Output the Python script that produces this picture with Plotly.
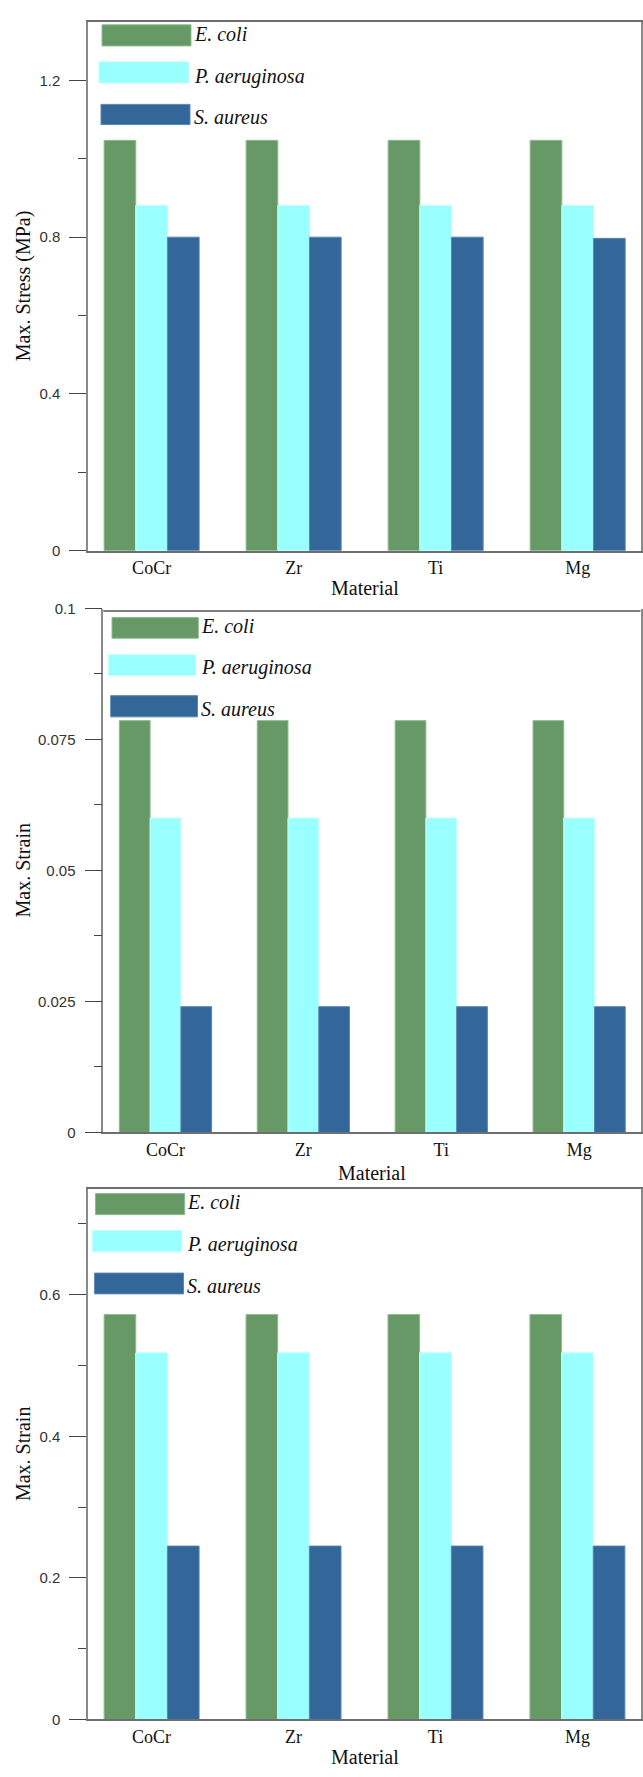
import plotly.graph_objects as go

# ---- data -------------------------------------------------------------
materials = ["CoCr", "Zr", "Ti", "Mg"]
species = ["E. coli", "P. aeruginosa", "S. aureus"]

stress_ecoli = [1.047, 1.047, 1.047, 1.047]
stress_paer = [0.881, 0.881, 0.881, 0.881]
stress_saur = [0.800, 0.800, 0.800, 0.797]

strain_a_ecoli = [0.0786, 0.0786, 0.0786, 0.0786]
strain_a_paer = [0.0600, 0.0600, 0.0600, 0.0600]
strain_a_saur = [0.0240, 0.0240, 0.0240, 0.0240]

strain_b_ecoli = [0.572, 0.572, 0.572, 0.572]
strain_b_paer = [0.518, 0.518, 0.518, 0.518]
strain_b_saur = [0.245, 0.245, 0.245, 0.245]

# ---- styling ----------------------------------------------------------
fill_colors = ["#669966", "#99FFFF", "#336699"]
edge_colors = ["#8dbb8d", "#c4ffff", "#5a86b3"]
SERIF = "Liberation Serif"
SANS = "Liberation Sans"

W, H = 643, 1777


def fx(x):
    return x / W


def fy(y):
    return 1 - y / H


panels = [
    dict(series=[stress_ecoli, stress_paer, stress_saur],
         box=(88, 641.3, 12.7, 547), yrange=[0, 1.35], dtick=0.4,
         xrange=[-0.448, 3.448], ytitle="Max. Stress (MPa)",
         swatches=[(102, 191, 16, 37.3), (99, 189, 53.3, 74.7), (101, 190, 96.3, 116.7)],
         label_x=192, label_y=[25, 67.7, 109], xtitle_y=585, top_black=False),
    dict(series=[strain_a_ecoli, strain_a_paer, strain_a_saur],
         box=(103.3, 640.5, 605.3, 1134.3), yrange=[0, 0.1], dtick=0.025,
         xrange=[-0.451, 3.445], ytitle="Max. Strain",
         swatches=[(112, 198.3, 614.3, 635.3), (108.7, 195.5, 652, 673), (110.7, 197.5, 693.3, 714.7)],
         label_x=199.2, label_y=[623.3, 665, 706.7], xtitle_y=1175, top_black=True),
    dict(series=[strain_b_ecoli, strain_b_paer, strain_b_saur],
         box=(88, 641, 1191, 1727), yrange=[0, 0.75], dtick=0.2,
         xrange=[-0.448, 3.448], ytitle="Max. Strain",
         swatches=[(95.5, 184.7, 1196, 1217.3), (92.6, 181.8, 1233.3, 1254.7), (94.6, 183.5, 1276.3, 1297.3)],
         label_x=185.5, label_y=[1205, 1247.7, 1289], xtitle_y=1765, top_black=False),
]

fig = go.Figure()
shapes = []
annotations = []

for i, p in enumerate(panels, start=1):
    sfx = "" if i == 1 else str(i)
    x0, x1, y0, y1 = p["box"]

    for name, vals, fc, ec in zip(species, p["series"], fill_colors, edge_colors):
        fig.add_trace(go.Bar(
            x=materials, y=vals, name=name,
            xaxis="x" + sfx, yaxis="y" + sfx,
            marker=dict(color=fc, line=dict(color=ec, width=1)),
            showlegend=False,
        ))

    fig.layout["xaxis" + sfx] = dict(
        domain=[fx(x0), fx(x1)], anchor="y" + sfx,
        range=p["xrange"], type="category",
        showline=True, linecolor="#6e6e6e", linewidth=1.5,
        mirror=not p["top_black"],
        ticks="", showgrid=False, zeroline=False,
        tickfont=dict(family=SERIF, size=18, color="#111111"),
    )
    fig.layout["yaxis" + sfx] = dict(
        domain=[fy(y1), fy(y0)], anchor="x" + sfx,
        range=p["yrange"], dtick=p["dtick"], tick0=0,
        showline=True, linecolor="#8a8a8a", linewidth=1.5, mirror=True,
        ticks="outside", ticklen=17, tickwidth=1.2, tickcolor="#444444",
        minor=dict(dtick=p["dtick"] / 2, ticks="outside", ticklen=8,
                   tickwidth=1.2, tickcolor="#444444"),
        ticklabelstandoff=6,
        showgrid=False, zeroline=False,
        tickfont=dict(family=SANS, size=15, color="#333333"),
    )

    if p["top_black"]:
        # top border drawn just below the end of the value axis
        shapes.append(dict(
            type="line", xref="paper", yref="paper",
            x0=fx(x0), x1=fx(x1), y0=fy(y0 + 2.5), y1=fy(y0 + 2.5),
            line=dict(color="#000000", width=1.2),
        ))

    # axis titles
    annotations.append(dict(
        text="Material", x=fx((x0 + x1) / 2), y=fy(p["xtitle_y"]),
        xref="paper", yref="paper", showarrow=False,
        xanchor="center", yanchor="middle",
        font=dict(family=SERIF, size=20, color="#111111"),
    ))
    annotations.append(dict(
        text=p["ytitle"], x=fx(23), y=fy((y0 + y1) / 2),
        xref="paper", yref="paper", showarrow=False, textangle=-90,
        xanchor="center", yanchor="middle",
        font=dict(family=SERIF, size=20, color="#111111"),
    ))

    # legend swatches and italic labels
    for (sx0, sx1, sy0, sy1), ly, name, fc, ec in zip(
            p["swatches"], p["label_y"], species, fill_colors, edge_colors):
        shapes.append(dict(
            type="rect", xref="paper", yref="paper",
            x0=fx(sx0), x1=fx(sx1), y0=fy(sy1), y1=fy(sy0),
            fillcolor=fc, line=dict(color=ec, width=1),
        ))
        annotations.append(dict(
            text=name, x=fx(p["label_x"]), y=fy(ly),
            xref="paper", yref="paper", showarrow=False,
            xanchor="left", yanchor="middle",
            font=dict(family=SERIF, size=20, color="#111111", style="italic"),
        ))

fig.update_layout(
    width=W, height=H,
    margin=dict(l=0, r=0, t=0, b=0),
    paper_bgcolor="white", plot_bgcolor="white",
    barmode="group", bargap=0.331, bargroupgap=0,
    showlegend=False,
    shapes=shapes, annotations=annotations,
)

fig.write_html("out.html")
